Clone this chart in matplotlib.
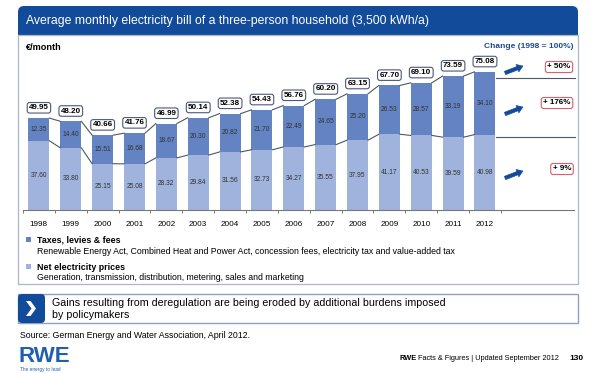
import matplotlib

matplotlib.use("Agg")
import matplotlib.pyplot as plt
from matplotlib.patches import FancyBboxPatch, Rectangle, Polygon, FancyArrow

plt.rcParams["font.family"] = ["Liberation Sans", "DejaVu Sans"]

years = ["1998", "1999", "2000", "2001", "2002", "2003", "2004", "2005",
         "2006", "2007", "2008", "2009", "2010", "2011", "2012"]
net_prices = [37.60, 33.80, 25.15, 25.08, 28.32, 29.84, 31.56, 32.73,
              34.27, 35.55, 37.95, 41.17, 40.53, 39.59, 40.98]
taxes = [12.35, 14.40, 15.51, 16.68, 18.67, 20.30, 20.82, 21.70,
         22.49, 24.65, 25.20, 26.53, 28.57, 33.19, 34.10]
totals = [49.95, 48.20, 40.66, 41.76, 46.99, 50.14, 52.38, 54.43,
          56.76, 60.20, 63.15, 67.70, 69.10, 73.59, 75.08]
changes = ["+ 50%", "+ 176%", "+ 9%"]

BLUE = "#134b9b"
TAX_C = "#6383c2"
NET_C = "#a0b3dc"
LINE_C = "#4d5766"

fig = plt.figure(figsize=(6.01, 3.73), dpi=100)

# background layer in pixel coordinates
bg = fig.add_axes([0, 0, 1, 1])
bg.set_xlim(0, 601)
bg.set_ylim(373, 0)
bg.axis("off")

# title bar + panel
bg.add_patch(FancyBboxPatch((18, 6), 560, 29, boxstyle="round,pad=0,rounding_size=6",
                            fc=BLUE, ec="none"))
bg.add_patch(Rectangle((18, 24), 560, 11, fc=BLUE, ec="none"))
bg.add_patch(Rectangle((18, 35), 560, 249, fc="none", ec="#a9b6cc", lw=0.9))
bg.text(26, 21, "Average monthly electricity bill of a three-person household (3,500 kWh/a)",
        color="white", fontsize=8.8, va="center", ha="left")
bg.text(26, 48, "€/month", fontsize=6.6, fontweight="bold", va="center")
bg.text(573, 46, "Change (1998 = 100%)", fontsize=6, fontweight="bold", color="#1f4a8f",
        ha="right", va="center")

# right-hand separators, arrows and change boxes
for yy in (78, 137):
    bg.plot([496, 575], [yy, yy], color=LINE_C, lw=0.8)
for ay, label, ly, lx in zip((73, 114, 178), changes, (67, 103, 169), (559, 557, 562)):
    bg.add_patch(FancyArrow(505, ay, 18, -7, width=3.6, head_width=8, head_length=6,
                            length_includes_head=True, fc=BLUE, ec=BLUE, lw=0.4))
    bg.text(lx, ly, label, fontsize=5.8, fontweight="bold", ha="center", va="center",
            bbox=dict(boxstyle="round,pad=0.25,rounding_size=0.3", fc="white",
                      ec="#d9606a", lw=0.8))

# legend block
bg.add_patch(Rectangle((26, 237), 5, 5, fc=TAX_C, ec="none"))
bg.text(37, 240, "Taxes, levies & fees", fontsize=6.4, fontweight="bold", va="center")
bg.text(37, 251, "Renewable Energy Act, Combined Heat and Power Act, concession fees, "
        "electricity tax and value-added tax", fontsize=6.3, va="center")
bg.add_patch(Rectangle((26, 264), 5, 5, fc=NET_C, ec="none"))
bg.text(37, 267, "Net electricity prices", fontsize=6.4, fontweight="bold", va="center")
bg.text(37, 277, "Generation, transmission, distribution, metering, sales and marketing",
        fontsize=6.3, va="center")

# key message box
bg.add_patch(Rectangle((18, 294), 560, 29, fc="white", ec="#8fa0c4", lw=1.0))
bg.add_patch(FancyBboxPatch((18, 294), 27, 29, boxstyle="round,pad=0,rounding_size=4",
                            fc=BLUE, ec="none"))
bg.add_patch(Polygon([(26, 301), (30.5, 301), (36, 308.5), (30.5, 316), (26, 316), (31.5, 308.5)],
                     closed=True, fc="white", ec="none"))
bg.text(52, 303, "Gains resulting from deregulation are being eroded by additional burdens imposed",
        fontsize=7.7, va="center")
bg.text(52, 315, "by policymakers", fontsize=7.7, va="center")

# footer
bg.text(20, 336, "Source: German Energy and Water Association, April 2012.", fontsize=6.3, va="center")
bg.text(19, 356, "RWE", fontsize=16, fontweight="bold", color="#1f5fae", va="center")
bg.text(20, 369, "The energy to lead", fontsize=3.4, color="#1f5fae", va="center")
bg.text(400, 359, "RWE", fontsize=5.3, fontweight="bold", va="center")
bg.text(418.5, 359, "Facts & Figures | Updated September 2012", fontsize=5.3, va="center")
bg.text(576, 359, "130", fontsize=6, fontweight="bold", va="center", ha="center")

# chart axes: bar spacing ~31.9 px, 1.84 px per euro
step_px = 31.86
ax_left, ax_right, base_px, top_px = 23, 574, 210, 40
ax = fig.add_axes([ax_left / 601, (373 - base_px) / 373,
                   (ax_right - ax_left) / 601, (base_px - top_px) / 373])
ax.patch.set_alpha(0)
ax.set_xlim(-0.5, -0.5 + (ax_right - ax_left) / step_px)
ax.set_ylim(0, (base_px - top_px) / 1.84)

x = list(range(len(years)))
w = 0.66
ax.bar(x, net_prices, width=w, color=NET_C, zorder=2)
ax.bar(x, taxes, width=w, bottom=net_prices, color=TAX_C, zorder=2)

tops = [n + t for n, t in zip(net_prices, taxes)]
for i in range(len(x) - 1):
    ax.plot([x[i] + w / 2, x[i + 1] - w / 2], [tops[i], tops[i + 1]], color=LINE_C, lw=0.8)
    ax.plot([x[i] + w / 2, x[i + 1] - w / 2], [net_prices[i], net_prices[i + 1]],
            color=LINE_C, lw=0.8)

for xi, n, t, tot in zip(x, net_prices, taxes, totals):
    ax.text(xi, n / 2, f"{n:.2f}", fontsize=4.8, color="#333333", ha="center", va="center")
    ax.text(xi, n + t / 2, f"{t:.2f}", fontsize=4.8, color="#333333", ha="center", va="center")
    ax.text(xi, n + t + 5.6, f"{tot:.2f}", fontsize=5.8, fontweight="bold", ha="center",
            va="center", bbox=dict(boxstyle="round,pad=0.22,rounding_size=0.3", fc="white",
                                   ec="#4a5a78", lw=0.8))

for side in ("top", "right", "left"):
    ax.spines[side].set_visible(False)
ax.spines["bottom"].set_color("#777777")
ax.spines["bottom"].set_linewidth(0.8)
ax.set_yticks([])
ax.set_xticks(x)
ax.set_xticklabels(years, fontsize=5.9)
ax.tick_params(axis="x", which="major", length=0, pad=8)
ax.set_xticks([i - 0.5 for i in range(len(years) + 1)], minor=True)
ax.tick_params(axis="x", which="minor", length=2.5, width=0.7, color="#777777")

fig.savefig("out.png", dpi=100)
